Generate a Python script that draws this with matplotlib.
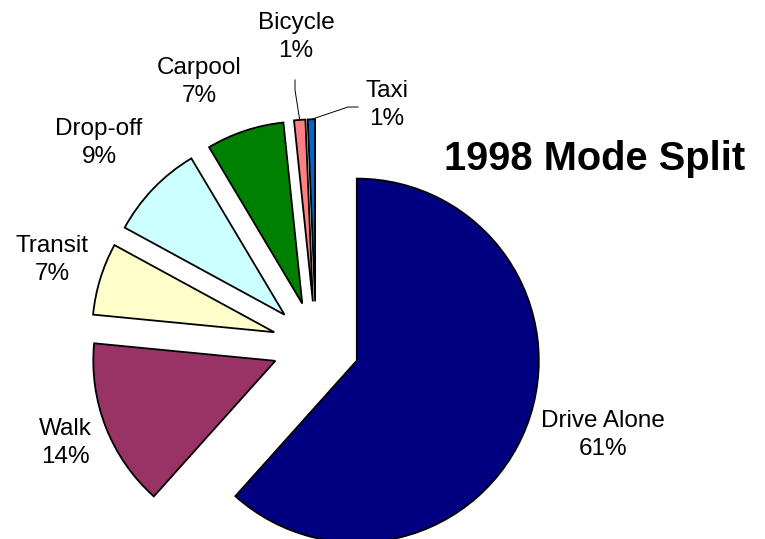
import matplotlib
matplotlib.use("Agg")
import matplotlib.pyplot as plt
import numpy as np

categories = ["Drive Alone", "Walk", "Transit", "Drop-off", "Carpool", "Bicycle", "Taxi"]
shares = [61.6, 14.9, 6.4, 8.5, 6.9, 1.0, 0.65]
pct_labels = ["61%", "14%", "7%", "9%", "7%", "1%", "1%"]
title = "1998 Mode Split"

# ---- styles / layout ----
colors = ["#000080", "#993366", "#FFFFCC", "#CCFFFF", "#008000", "#FF8080", "#0066CC"]
W, H = 765, 539
R_PX = 182.0            # pie radius in pixels
CENTER_PX = (316, 345)  # pie centre (pixel coords, y from top)
EXPLODE = 0.24
label_px = {
    "Drive Alone": (603, 435),
    "Walk": (65, 443),
    "Transit": (52, 260),
    "Drop-off": (99, 143),
    "Carpool": (199, 82),
    "Bicycle": (296, 37),
    "Taxi": (387, 105),
}
title_px = (595, 170)

plt.rcParams['font.family'] = ['Liberation Sans', 'DejaVu Sans']

fig = plt.figure(figsize=(W / 100, H / 100), dpi=100)
ax = fig.add_axes([0, 0, 1, 1])

cx, cy = CENTER_PX
def px2d(px, py):
    return ((px - cx) / R_PX, ((H - py) - (H - cy)) / R_PX)

wedges, _ = ax.pie(shares, colors=colors, startangle=90, counterclock=False,
                   explode=[EXPLODE] * len(shares), radius=1.0,
                   wedgeprops=dict(edgecolor="black", linewidth=1.3))

x0, y0 = px2d(0, H)
x1, y1 = px2d(W, 0)
ax.set_xlim(x0, x1)
ax.set_ylim(y0, y1)
ax.set_aspect('auto')
ax.axis('off')

for cat, lab in zip(categories, pct_labels):
    lx, ly = px2d(*label_px[cat])
    ax.text(lx, ly, f"{cat}\n{lab}", ha='center', va='center',
            multialignment='center', fontsize=17.5, linespacing=1.33, color='black')

tx, ty = px2d(*title_px)
ax.text(tx, ty, title, ha='center', va='baseline', fontsize=28.7, fontweight='bold')

# leader lines for the small slices
def wedge_tip(w):
    th = np.deg2rad((w.theta1 + w.theta2) / 2)
    return w.center[0] + w.r * np.cos(th), w.center[1] + w.r * np.sin(th)

bi = categories.index("Bicycle")
bx, by = wedge_tip(wedges[bi])
lx, ly = px2d(295, 80)
mx, my = px2d(295, 90)
ax.plot([lx, mx, bx], [ly, my, by], color='black', lw=0.7)

ti = categories.index("Taxi")
tx2, ty2 = wedge_tip(wedges[ti])
ex, ey = px2d(348, 107)
fx, fy = px2d(358, 107)
ax.plot([tx2, ex, fx], [ty2, ey, fy], color='black', lw=0.7)

fig.savefig("out.png", dpi=100)
